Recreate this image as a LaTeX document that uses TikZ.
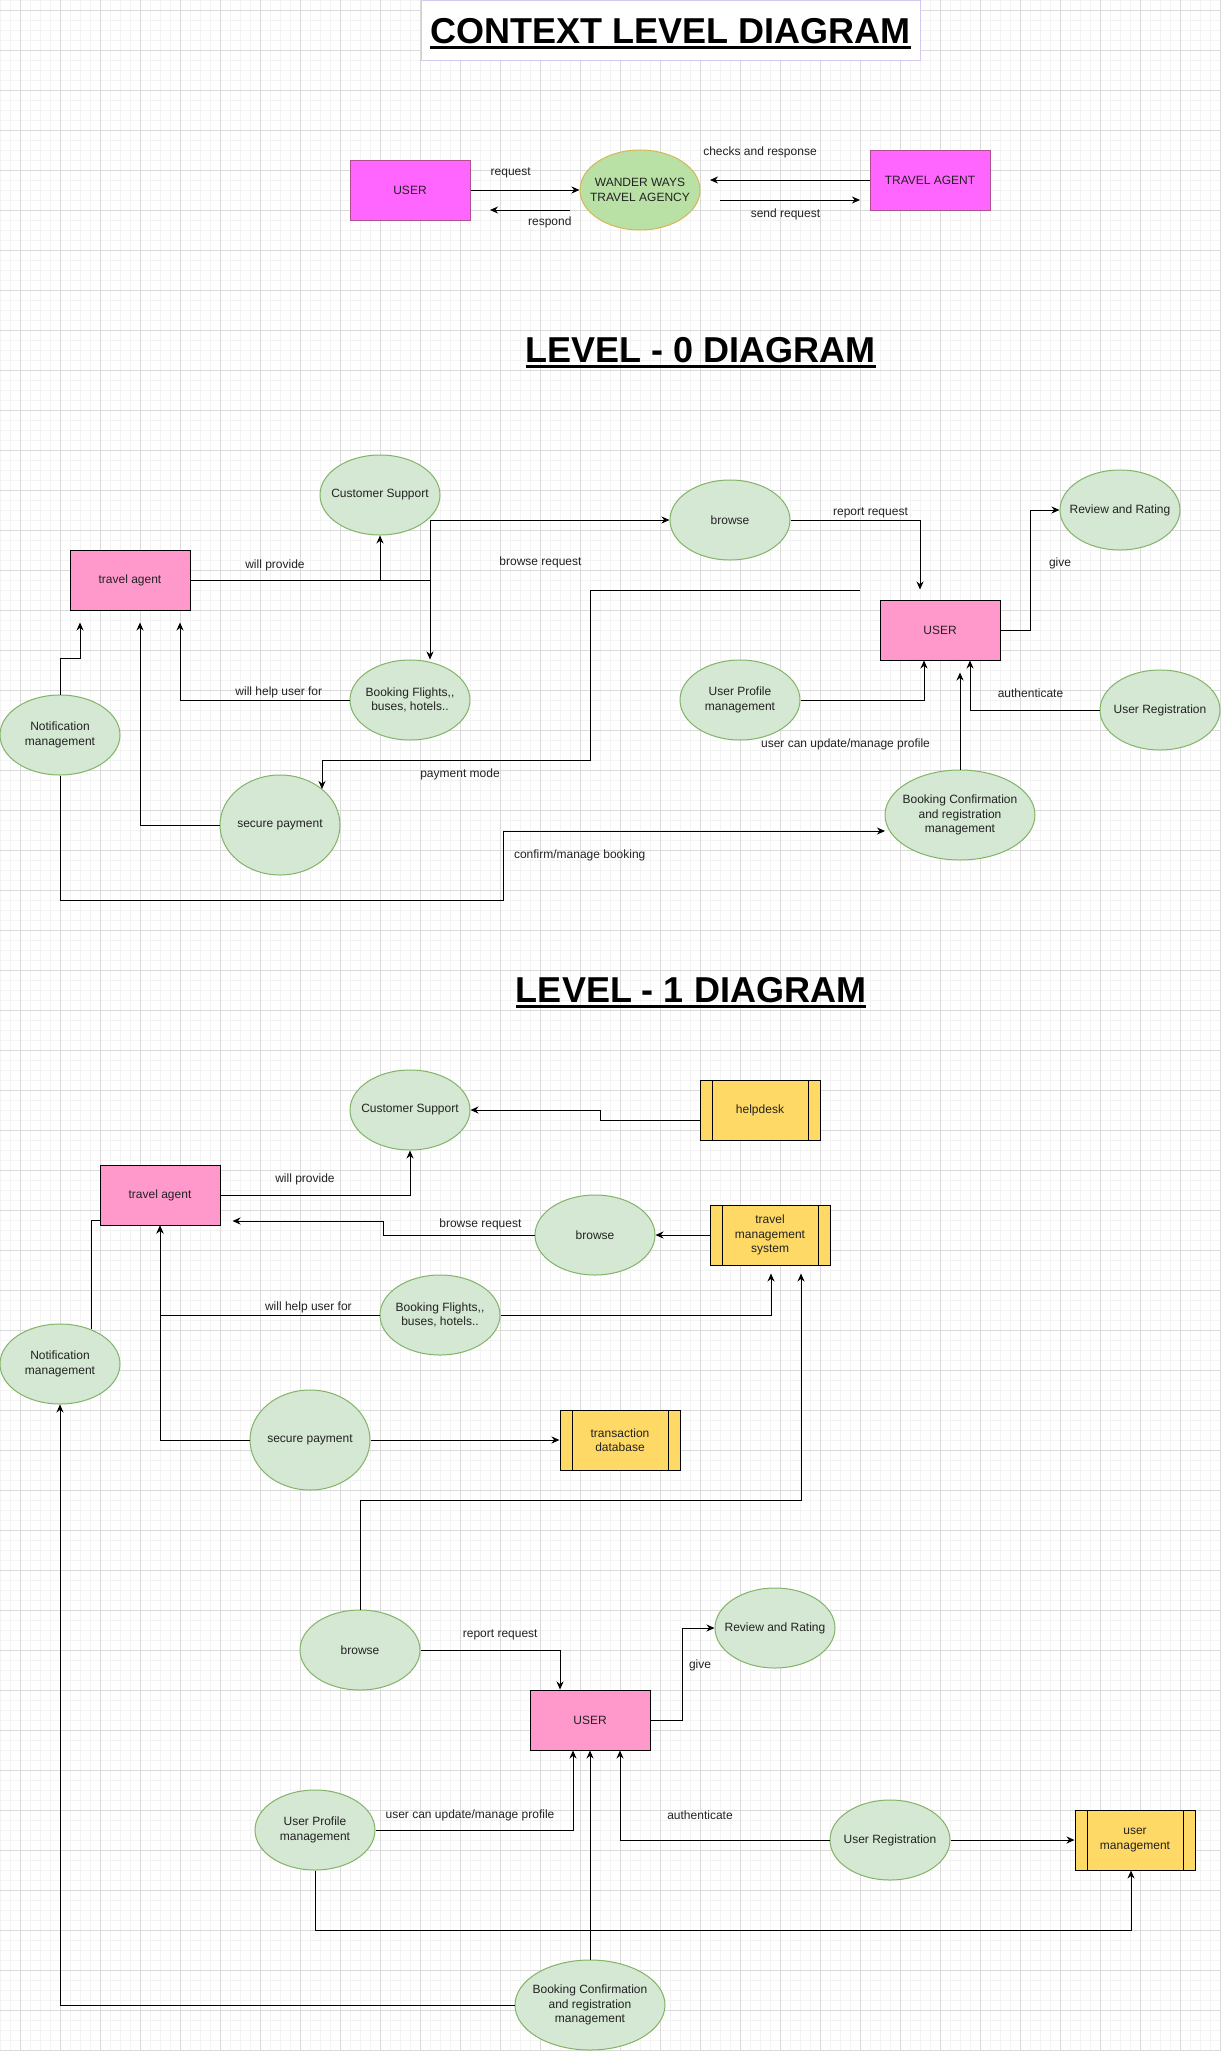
\documentclass[tikz,border=0pt]{standalone}
\usepackage{fontspec}
\setmainfont{Liberation Sans}
\usetikzlibrary{arrows.meta,shapes.geometric}
\definecolor{gridmin}{HTML}{F3F3F3}
\definecolor{gridmaj}{HTML}{DADADA}
\definecolor{entfill}{HTML}{FF99CC}
\definecolor{ctxfill}{HTML}{FF66FF}
\definecolor{ctxdraw}{HTML}{B05090}
\definecolor{procfill}{HTML}{D5E8D4}
\definecolor{procdraw}{HTML}{82B366}
\definecolor{agfill}{HTML}{B9E0A5}
\definecolor{agdraw}{HTML}{D6B656}
\definecolor{storefill}{HTML}{FFD966}
\definecolor{titledraw}{HTML}{D4C8F0}
\definecolor{txtcol}{HTML}{222222}
\begin{document}
\begin{tikzpicture}[x=1pt,y=-1pt,
  every node/.style={font=\fontsize{12}{14.4}\selectfont, text=txtcol},
  entity/.style={rectangle, draw=black, fill=entfill, line width=1pt, minimum width=120pt, minimum height=60pt, inner sep=0pt, align=center},
  ctxent/.style={entity, fill=ctxfill, draw=ctxdraw},
  proc/.style={ellipse, draw=procdraw, fill=procfill, line width=1pt, minimum width=120pt, minimum height=80pt, inner sep=0pt},
  ptxt/.style={label={[align=center, inner sep=0pt]center:#1}},
  store/.style={rectangle, draw=black, fill=storefill, line width=1pt, minimum width=120pt, minimum height=60pt, inner sep=0pt, align=center,
    path picture={\draw[line width=1pt] ([xshift=12pt]path picture bounding box.north west) -- ([xshift=12pt]path picture bounding box.south west) ([xshift=-12pt]path picture bounding box.north east) -- ([xshift=-12pt]path picture bounding box.south east);}},
  lbl/.style={inner sep=0pt, text=txtcol},
  arr/.style={draw=black, line width=1pt, -{Stealth[length=8pt,width=7pt]}},
  ln/.style={draw=black, line width=1pt},
  ttl/.style={font=\fontsize{36}{40}\selectfont\bfseries, text=black, anchor=base, inner sep=0pt}
]
\useasboundingbox (0,0) rectangle (1221,2051);
\fill[white] (0,0) rectangle (1221,2051);
\foreach \i in {0,...,122} \draw[gridmin, line width=0.8pt] (\i*10,0) -- (\i*10,2051);
\foreach \i in {0,...,205} \draw[gridmin, line width=0.8pt] (0,\i*10) -- (1221,\i*10);
\foreach \i in {0,...,30} \draw[gridmaj, line width=0.8pt] (20+\i*40,0) -- (20+\i*40,2051);
\foreach \i in {0,...,51} \draw[gridmaj, line width=0.8pt] (0,10+\i*40) -- (1221,10+\i*40);

% ---------- titles
\node[draw=titledraw, line width=1pt, fill=white, minimum width=499pt, minimum height=59.5pt, inner sep=0pt] (tbox) at (670.5,30.25) {};
\node[ttl] (t0) at (670.5,43.3) {CONTEXT LEVEL DIAGRAM};
\draw[line width=3pt] ([yshift=-4pt]t0.base west) -- ([yshift=-4pt]t0.base east);
\node[ttl] (t1) at (700.8,362.7) {LEVEL - 0 DIAGRAM};
\draw[line width=3pt] ([yshift=-4pt]t1.base west) -- ([yshift=-4pt]t1.base east);
\node[ttl] (t2) at (691,1002) {LEVEL - 1 DIAGRAM};
\draw[line width=3pt] ([yshift=-4pt]t2.base west) -- ([yshift=-4pt]t2.base east);

% ---------- context level
\node[ctxent] (cuser) at (410,190) {USER};
\node[ellipse, draw=agdraw, fill=agfill, line width=1pt, minimum width=120pt, minimum height=80pt, inner sep=0pt, ptxt={WANDER WAYS\\TRAVEL AGENCY}] (cagency) at (640,190) {};
\node[ctxent] (cagent) at (930,180) {TRAVEL AGENT};
\coordinate (respS) at (570,210);
\coordinate (respE) at (490,210);
\coordinate (chkE) at (710,180);
\coordinate (sndS) at (720,200);
\coordinate (sndE) at (860,200);
\draw[arr] (cuser.east) -- (cagency.west);
\draw[arr] (respS) -- (respE);
\draw[arr] (cagent.west) -- (chkE);
\draw[arr] (sndS) -- (sndE);
\node[lbl] (lc1) at (510.7,172.7) {request};
\node[lbl] (lc2) at (549.8,222.3) {respond};
\node[lbl] (lc3) at (760,152.7) {checks and response};
\node[lbl] (lc4) at (785.5,214.3) {send request};

% ---------- level 0
\node[entity] (ta0) at (130,580) {travel agent};
\node[proc, ptxt={Customer Support}] (cs0) at (380,495) {};
\node[proc, ptxt={browse}] (br0) at (730,520) {};
\node[entity] (u0) at (940,630) {USER};
\node[proc, ptxt={Review and Rating}] (rr0) at (1120,510) {};
\node[proc, ptxt={Booking Flights,\kern0pt,\\buses, hotels..}] (bf0) at (410,700) {};
\node[proc, ptxt={Notification\\management}] (nm0) at (60,735) {};
\node[proc, minimum height=100pt, ptxt={secure payment}] (sp0) at (280,825) {};
\node[proc, ptxt={User Profile\\management}] (up0) at (740,700) {};
\node[proc, minimum width=150pt, minimum height=90pt, ptxt={Booking Confirmation\\and registration\\management}] (bc0) at (960,815) {};
\node[proc, ptxt={User Registration}] (ur0) at (1160,710) {};

\coordinate (j0) at (430,580);
\coordinate (pm0) at (860,590);
\coordinate (sp0t) at (322,789);
\coordinate (bc0in) at (885,831);
\draw[arr] (ta0.east) -| (cs0.south);
\draw[arr] (ta0.east) -- (j0) |- (br0.west);
\draw[arr] (ta0.east) -- (j0) -- (j0 |- bf0.north);
\draw[arr] (nm0.north) -- (60,658) -| ([xshift=-50pt,yshift=-12pt]ta0.south);
\draw[arr] (sp0.west) -| ([xshift=10pt,yshift=-12pt]ta0.south);
\draw[arr] (bf0.west) -| ([xshift=50pt,yshift=-12pt]ta0.south);
\draw[arr] (br0.east) -| ([xshift=-20pt,yshift=10pt]u0.north);
\draw[arr] (pm0) -- (590,590) -- (590,760) -| (sp0t);
\draw[arr] (nm0.south) -- (60,900) -- (503,900) -- (503,831) -- (bc0in);
\draw[arr] (u0.east) -- (1030,630) |- (rr0.west);
\draw[arr] (up0.east) -| ([xshift=-16pt]u0.south);
\draw[arr] (bc0.north) -- ([xshift=20pt,yshift=-12pt]u0.south);
\draw[arr] (ur0.west) -| ([xshift=30pt]u0.south);
\node[lbl] (l01) at (275,565) {will provide};
\node[lbl] (l02) at (540.5,562.7) {browse request};
\node[lbl] (l03) at (278.8,692.7) {will help user for};
\node[lbl] (l04) at (460,774.7) {payment mode};
\node[lbl] (l05) at (579.7,855) {confirm/manage booking};
\node[lbl] (l06) at (870.5,512.7) {report request};
\node[lbl] (l07) at (1060,563) {give};
\node[lbl] (l08) at (845.5,744.7) {user can update/manage profile};
\node[lbl] (l09) at (1030.5,692.7) {authenticate};

% ---------- level 1
\node[proc, ptxt={Customer Support}] (cs1) at (410,1110) {};
\node[store] (help1) at (760,1110) {helpdesk};
\node[entity] (ta1) at (160,1195) {travel agent};
\node[proc, ptxt={browse}] (br1) at (595,1235) {};
\node[store] (tms1) at (770,1235) {travel\\management\\system};
\node[proc, ptxt={Booking Flights,\kern0pt,\\buses, hotels..}] (bf1) at (440,1315) {};
\node[proc, ptxt={Notification\\management}] (nm1) at (60,1364) {};
\node[proc, minimum height=100pt, ptxt={secure payment}] (sp1) at (310,1440) {};
\node[store] (td1) at (620,1440) {transaction\\database};
\node[proc, ptxt={browse}] (br2) at (360,1650) {};
\node[proc, ptxt={Review and Rating}] (rr1) at (775,1628) {};
\node[entity] (u1) at (590,1720) {USER};
\node[proc, ptxt={User Profile\\management}] (up1) at (315,1830) {};
\node[proc, ptxt={User Registration}] (ur1) at (890,1840) {};
\node[store] (um1) at (1135,1840) {user\\management};
\node[proc, minimum width=150pt, minimum height=90pt, ptxt={Booking Confirmation\\and registration\\management}] (bc1) at (590,2005) {};

\draw[arr] (ta1.east) -| (cs1.south);
\draw[arr] ([yshift=-10pt]help1.west) -- (600,1120) -- (600,1110) -- (cs1.east);
\draw[arr] (tms1.west) -- (br1.east);
\draw[arr] (br1.west) -- (383,1235) -- (383,1221) -- ([xshift=12pt,yshift=-26pt]ta1.east);
\draw[arr] (bf1.west) -| (ta1.south);
\draw[arr] (sp1.west) -| (ta1.south);
\draw[arr] (bf1.east) -| ([xshift=1pt,yshift=-8pt]tms1.south);
\draw[ln] (nm1.48) |- ([yshift=-25pt]ta1.west);
\draw[arr] (sp1.east) -- (td1.west);
\draw[arr] (br2.north) -- (360,1500) -| ([xshift=31pt,yshift=-8pt]tms1.south);
\draw[arr] (br2.east) -| ([xshift=-30pt]u1.north);
\draw[arr] (u1.east) -- (682,1720) |- (rr1.west);
\draw[arr] (up1.east) -| ([xshift=-17pt]u1.south);
\draw[arr] (bc1.north) -- (u1.south);
\draw[arr] (ur1.west) -| ([xshift=30pt]u1.south);
\draw[arr] (ur1.east) -- (um1.west);
\draw[arr] (up1.south) -- (315,1930) -| ([xshift=-4pt]um1.south);
\draw[arr] (bc1.west) -| (nm1.south);
\node[lbl] (l11) at (305,1179.7) {will provide};
\node[lbl] (l12) at (480.4,1224.7) {browse request};
\node[lbl] (l13) at (308.4,1307.7) {will help user for};
\node[lbl] (l14) at (500.2,1635) {report request};
\node[lbl] (l15) at (700,1665) {give};
\node[lbl] (l16) at (470,1815) {user can update/manage profile};
\node[lbl] (l17) at (700,1815) {authenticate};
\end{tikzpicture}
\end{document}
